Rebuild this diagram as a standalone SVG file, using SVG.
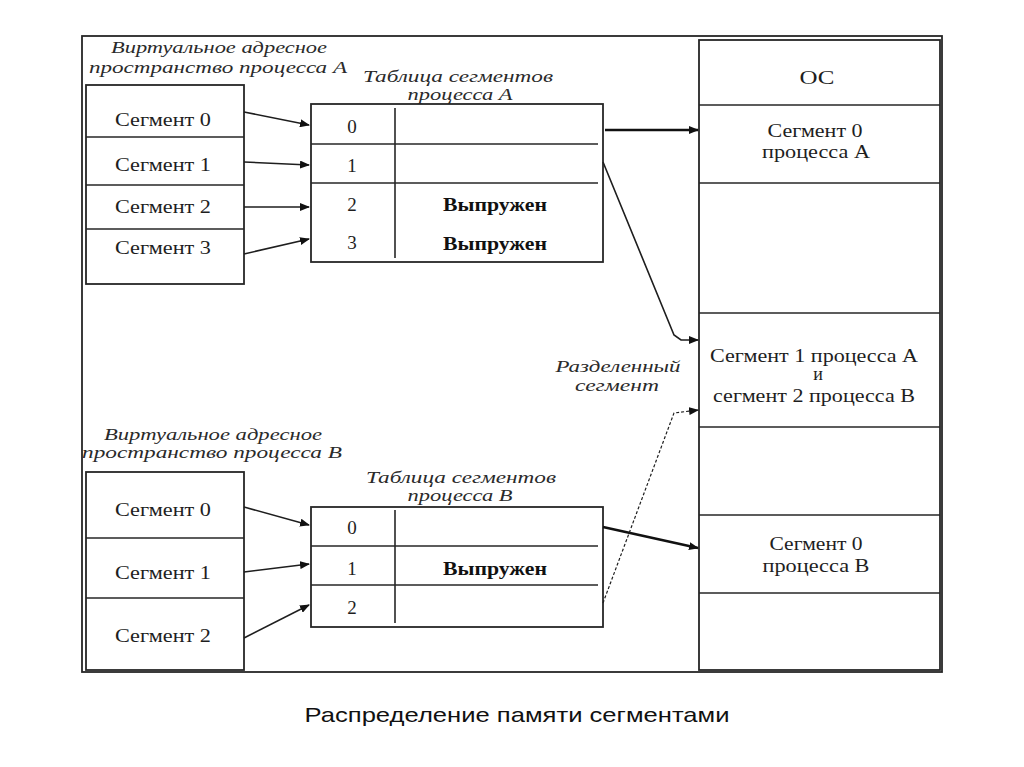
<svg xmlns="http://www.w3.org/2000/svg" width="1024" height="767" viewBox="0 0 1024 767">
<style>
.box{fill:none;stroke:#262626;stroke-width:1.8}
.ln{stroke:#262626;stroke-width:1.6;fill:none}
.t{font-family:"Liberation Serif","Times New Roman",serif;font-size:18px;fill:#1e1e1e;text-anchor:middle}
.d{font-family:"Liberation Serif","Times New Roman",serif;font-size:19px;fill:#1e1e1e;text-anchor:middle}
.b{font-family:"Liberation Serif","Times New Roman",serif;font-size:18px;font-weight:bold;fill:#111;text-anchor:middle}
.i{font-family:"Liberation Serif","Times New Roman",serif;font-size:16px;font-style:italic;fill:#2a2a2a;text-anchor:middle}
.cap{font-family:"Liberation Sans",Arial,sans-serif;font-size:21px;fill:#111;text-anchor:middle}
.a1{stroke:#1e1e1e;stroke-width:1.6;fill:none}
.a2{stroke:#111;stroke-width:2.6;fill:none}
.a3{stroke:#1e1e1e;stroke-width:1.2;fill:none;stroke-dasharray:3 2}
</style>
<defs>
<marker id="ah" viewBox="0 0 10 8" refX="9" refY="4" markerWidth="10" markerHeight="8" markerUnits="userSpaceOnUse" orient="auto">
<path d="M0,0 L10,4 L0,8 Z" fill="#111"/>
</marker>
</defs>
<rect width="1024" height="767" fill="#fff"/>
<g id="frame">
<rect class="box" x="82" y="36" width="860" height="636"/>
</g>
<g id="virtA">
<text class="i" x="219" y="53" textLength="216" lengthAdjust="spacingAndGlyphs">Виртуальное адресное</text>
<text class="i" x="218" y="73" textLength="258" lengthAdjust="spacingAndGlyphs">пространство процесса А</text>
<rect class="box" x="86" y="85" width="158" height="199"/>
<line class="ln" x1="86" y1="137" x2="244" y2="137" stroke-width="2.4"/>
<line class="ln" x1="86" y1="185" x2="244" y2="185" stroke-width="2.4"/>
<line class="ln" x1="86" y1="229" x2="244" y2="229"/>
<text class="t" x="163" y="126" textLength="96" lengthAdjust="spacingAndGlyphs">Сегмент 0</text>
<text class="t" x="163" y="171" textLength="96" lengthAdjust="spacingAndGlyphs">Сегмент 1</text>
<text class="t" x="163" y="213" textLength="96" lengthAdjust="spacingAndGlyphs">Сегмент 2</text>
<text class="t" x="163" y="254" textLength="96" lengthAdjust="spacingAndGlyphs">Сегмент 3</text>
</g>
<g id="tableA">
<text class="i" x="458" y="82" textLength="190" lengthAdjust="spacingAndGlyphs">Таблица сегментов</text>
<text class="i" x="460" y="100" textLength="105" lengthAdjust="spacingAndGlyphs">процесса А</text>
<rect class="box" x="311" y="104" width="292" height="158"/>
<line class="ln" x1="311" y1="144" x2="598" y2="144"/>
<line class="ln" x1="311" y1="183" x2="598" y2="183"/>
<line class="ln" x1="395" y1="108" x2="395" y2="258"/>
<text class="d" x="352" y="133">0</text>
<text class="d" x="352" y="172">1</text>
<text class="d" x="352" y="211">2</text>
<text class="d" x="352" y="249">3</text>
<text class="b" x="495" y="211" textLength="104" lengthAdjust="spacingAndGlyphs">Выпружен</text>
<text class="b" x="495" y="250" textLength="104" lengthAdjust="spacingAndGlyphs">Выпружен</text>
</g>
<g id="virtB">
<text class="i" x="213" y="440" textLength="218" lengthAdjust="spacingAndGlyphs">Виртуальное адресное</text>
<text class="i" x="212" y="458" textLength="260" lengthAdjust="spacingAndGlyphs">пространство процесса В</text>
<rect class="box" x="86" y="472" width="158" height="198"/>
<line class="ln" x1="86" y1="538" x2="244" y2="538" stroke-width="2.2"/>
<line class="ln" x1="86" y1="598" x2="244" y2="598"/>
<text class="t" x="163" y="516" textLength="96" lengthAdjust="spacingAndGlyphs">Сегмент 0</text>
<text class="t" x="163" y="579" textLength="96" lengthAdjust="spacingAndGlyphs">Сегмент 1</text>
<text class="t" x="163" y="642" textLength="96" lengthAdjust="spacingAndGlyphs">Сегмент 2</text>
</g>
<g id="tableB">
<text class="i" x="461" y="483" textLength="190" lengthAdjust="spacingAndGlyphs">Таблица сегментов</text>
<text class="i" x="460" y="501" textLength="105" lengthAdjust="spacingAndGlyphs">процесса В</text>
<rect class="box" x="311" y="507" width="292" height="120"/>
<line class="ln" x1="311" y1="546" x2="598" y2="546"/>
<line class="ln" x1="311" y1="585" x2="598" y2="585"/>
<line class="ln" x1="395" y1="510" x2="395" y2="623"/>
<text class="d" x="352" y="534">0</text>
<text class="d" x="352" y="575">1</text>
<text class="d" x="352" y="614">2</text>
<text class="b" x="495" y="575" textLength="104" lengthAdjust="spacingAndGlyphs">Выпружен</text>
</g>
<g id="memory">
<rect class="box" x="699" y="40" width="241" height="630" stroke-width="2"/>
<line class="ln" x1="699" y1="105" x2="940" y2="105"/>
<line class="ln" x1="699" y1="183" x2="940" y2="183" stroke-width="2.2"/>
<line class="ln" x1="699" y1="313" x2="940" y2="313" stroke-width="2.2"/>
<line class="ln" x1="699" y1="427" x2="940" y2="427" stroke-width="2.2"/>
<line class="ln" x1="699" y1="515" x2="940" y2="515"/>
<line class="ln" x1="699" y1="593" x2="940" y2="593" stroke-width="2.2"/>
<text class="t" x="817" y="84" textLength="35" lengthAdjust="spacingAndGlyphs">ОС</text>
<text class="t" x="815" y="137" textLength="95" lengthAdjust="spacingAndGlyphs">Сегмент 0</text>
<text class="t" x="816" y="158" textLength="108" lengthAdjust="spacingAndGlyphs">процесса А</text>
<text class="t" x="814" y="362" textLength="208" lengthAdjust="spacingAndGlyphs">Сегмент 1 процесса А</text>
<text class="t" x="818" y="380">и</text>
<text class="t" x="814" y="402" textLength="202" lengthAdjust="spacingAndGlyphs">сегмент 2 процесса В</text>
<text class="t" x="816" y="550" textLength="93" lengthAdjust="spacingAndGlyphs">Сегмент 0</text>
<text class="t" x="816" y="572" textLength="107" lengthAdjust="spacingAndGlyphs">процесса В</text>
</g>
<g id="sharedLabel">
<text class="i" x="618" y="372" textLength="125" lengthAdjust="spacingAndGlyphs">Разделенный</text>
<text class="i" x="617" y="391" textLength="84" lengthAdjust="spacingAndGlyphs">сегмент</text>
</g>
<g id="connectors">
<line class="a1" x1="244" y1="112" x2="309" y2="125" marker-end="url(#ah)"/>
<line class="a1" x1="244" y1="162" x2="309" y2="165" marker-end="url(#ah)"/>
<line class="a1" x1="244" y1="207" x2="309" y2="207" marker-end="url(#ah)"/>
<line class="a1" x1="244" y1="254" x2="309" y2="239" marker-end="url(#ah)"/>
<line class="a2" x1="605" y1="130" x2="698" y2="130" marker-end="url(#ah)"/>
<polyline class="a1" points="603,162 674,335 681,340 698,340" stroke-width="2" marker-end="url(#ah)"/>
<line class="a1" x1="244" y1="507" x2="309" y2="525" marker-end="url(#ah)"/>
<line class="a1" x1="244" y1="572" x2="309" y2="564" marker-end="url(#ah)"/>
<line class="a1" x1="244" y1="638" x2="309" y2="605" marker-end="url(#ah)"/>
<line class="a2" x1="603" y1="527" x2="698" y2="548" marker-end="url(#ah)"/>
<polyline class="a3" points="603,603 674,413 698,410" marker-end="url(#ah)"/>
</g>
<g id="caption">
<text class="cap" x="517" y="722" textLength="425" lengthAdjust="spacingAndGlyphs">Распределение памяти сегментами</text>
</g>
</svg>
